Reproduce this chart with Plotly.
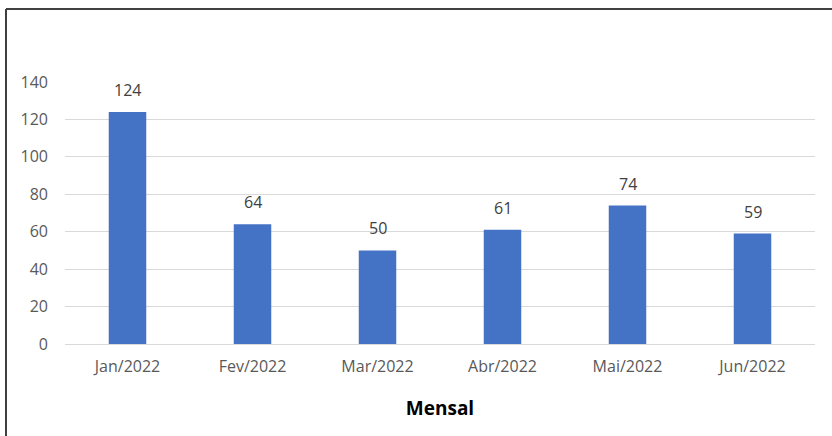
import plotly.graph_objects as go

months = ["Jan/2022", "Fev/2022", "Mar/2022", "Abr/2022", "Mai/2022", "Jun/2022"]
values = [124, 64, 50, 61, 74, 59]
y_ticks = [0, 20, 40, 60, 80, 100, 120, 140]

FONT = "Open Sans"
W, H = 832, 436
L, R, T, B = 65, 17, 82, 92

fig = go.Figure(go.Bar(
    x=months, y=values,
    marker=dict(color="#4472C4", line=dict(width=0)),
    width=0.3,
    hoverinfo="skip",
))

for m, v in zip(months, values):
    fig.add_annotation(x=m, y=v, text=str(v), showarrow=False,
                       yanchor="bottom", yshift=9,
                       font=dict(family=FONT, size=16, color="#404040"))

pw = W - L - R
ph = H - T - B
fig.update_layout(
    width=W, height=H,
    margin=dict(l=L, r=R, t=T, b=B, autoexpand=False),
    paper_bgcolor="white", plot_bgcolor="white",
    showlegend=False,
    bargap=0.7,
    font=dict(family=FONT, color="#595959"),
    xaxis=dict(
        showgrid=False, showline=False, zeroline=False,
        tickfont=dict(family=FONT, size=16, color="#595959"),
        ticks="", ticklabelstandoff=11,
        title=dict(text="<b>Mensal</b>", font=dict(family=FONT, size=19, color="#000000"), standoff=25),
    ),
    yaxis=dict(
        range=[0, 140], tickvals=y_ticks,
        showgrid=True, gridcolor="#D9D9D9", gridwidth=1,
        zeroline=True, zerolinecolor="#D9D9D9", zerolinewidth=1,
        showline=False, ticks="",
        tickfont=dict(family=FONT, size=16, color="#595959"),
        ticklabelstandoff=16,
    ),
    shapes=[
        dict(type="line", xref="paper", yref="paper",
             x0=(6 - L) / pw, x1=(6 - L) / pw,
             y0=(H - B - 9) / ph, y1=-(B + 5) / ph,
             line=dict(color="#404040", width=2)),
        dict(type="line", xref="paper", yref="paper",
             x0=(6 - L) / pw, x1=(W + 5 - L) / pw,
             y0=(H - B - 9) / ph, y1=(H - B - 9) / ph,
             line=dict(color="#404040", width=2)),
    ],
)

fig.write_html(
    "out.html",
    config={"displayModeBar": False},
    post_script="document.body.style.margin='0';document.body.style.overflow='hidden';",
)
